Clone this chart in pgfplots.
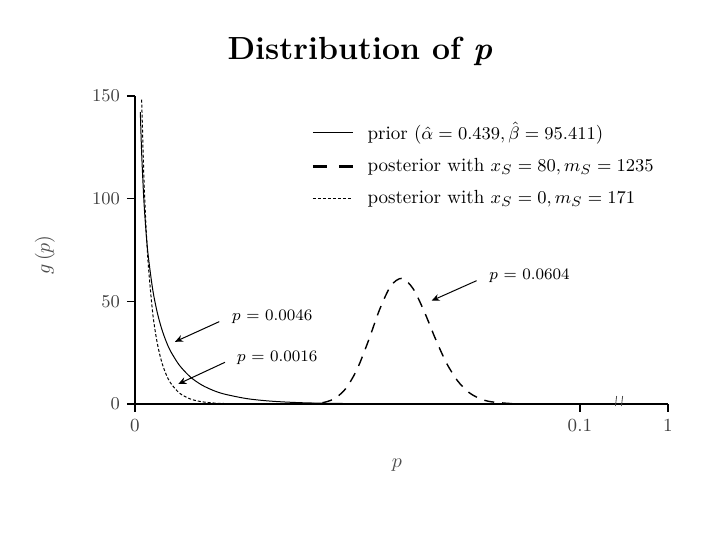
\documentclass[border=0pt]{standalone}
\usepackage{pgfplots}
\pgfplotsset{compat=1.18}
\usetikzlibrary{arrows.meta}
\pgfplotstableread{
x y
0.0012 142.2
0.0015 122.0
0.002 99.0
0.0025 83.3
0.003 71.7
0.004 55.5
0.005 44.6
0.006 36.6
0.007 30.5
0.008 25.7
0.01 18.8
0.0125 13.05
0.015 9.27
0.0175 6.69
0.02 4.88
0.025 2.66
0.03 1.48
0.035 0.83
0.04 0.47
0.05 0.155
0.06 0.05
0.08 0.006
0.1 0.0007
0.1198 0
}\prior
\pgfplotstableread{
x y
0.03 0
0.035 0.003
0.04 0.167
0.0425 0.79
0.045 2.83
0.0475 7.85
0.05 17.3
0.0525 31.0
0.055 46.1
0.0575 57.5
0.06 61.2
0.0625 56.2
0.065 45.1
0.0675 31.9
0.07 20.0
0.0725 11.3
0.075 5.71
0.0775 2.63
0.08 1.10
0.085 0.15
0.09 0.015
0.1 0
}\postA
\pgfplotstableread{
x y
0.0015 148.2
0.002 110.4
0.0025 85.3
0.003 67.4
0.004 43.9
0.005 29.7
0.006 20.5
0.007 14.4
0.008 10.24
0.01 5.29
0.0125 2.39
0.015 1.10
0.0175 0.51
0.02 0.24
0.025 0.055
0.03 0.01
0.04 0
}\postB
\begin{document}
\begin{tikzpicture}
\begin{axis}[
  at={(0,0)}, anchor=south west,
  scale only axis, width=266.5pt, height=154pt,
  xmin=0, xmax=0.1198, ymin=0, ymax=150,
  axis x line=bottom, axis y line=left,
  axis line style={-, line width=0.8pt},
  tick align=outside, major tick length=4pt,
  tick style={line width=0.8pt, black},
  xtick={0,0.1,0.1198}, xticklabels={0,0.1,1},
  ytick={0,50,100,150},
  scaled x ticks=false,
  tick label style={font=\fontsize{9.25}{11}\selectfont, text=black!75},
  xlabel={$p$}, ylabel={$g\,(p)$},
  xlabel style={at={(axis description cs:0.4916,-0.198)}, anchor=center, text=black!70, font=\fontsize{10}{12}\selectfont},
  ylabel style={at={(axis description cs:-0.169,0.484)}, anchor=center, text=black!70, font=\fontsize{10}{12}\selectfont},
  clip=false,
  legend style={at={(rel axis cs:0.319,0.9416)}, anchor=north west, draw=none, fill=none, font=\fontsize{9.5}{11}\selectfont, row sep=3.8pt},
  legend cell align=left,
]
\addplot[black, line width=0.5pt, smooth, legend image code/.code={\draw[black, line width=0.7pt] (0pt,0pt) -- (20pt,0pt); \path (25pt,0pt);}] table[x=x,y=y] {\prior};
\addlegendentry{prior ($\hat\alpha = 0.439, \hat\beta = 95.411$)}
\addplot[black, line width=0.7pt, smooth, dash pattern=on 5pt off 4pt, legend image code/.code={\draw[black, line width=1.4pt, dash pattern=on 7pt off 6pt] (0pt,0pt) -- (20pt,0pt); \path (25pt,0pt);}] table[x=x,y=y] {\postA};
\addlegendentry{posterior with $x_S = 80, m_S = 1235$}
\addplot[black, line width=0.5pt, smooth, dash pattern=on 1.5pt off 1pt, legend image code/.code={\draw[black, line width=0.6pt, dash pattern=on 1.5pt off 1pt] (0pt,0pt) -- (20pt,0pt); \path (25pt,0pt);}] table[x=x,y=y] {\postB};
\addlegendentry{posterior with $x_S = 0, m_S = 171$}
\node[font=\fontsize{16}{19}\selectfont\bfseries] at (axis description cs:0.422,1.145) {Distribution of \textit{p}};
\node[font=\footnotesize, anchor=west, inner sep=0pt] at (axis cs:0.07955,62.3) {$p$ = 0.0604};
\node[font=\footnotesize, anchor=west, inner sep=0pt] at (axis cs:0.02173,42.5) {$p$ = 0.0046};
\node[font=\footnotesize, anchor=west, inner sep=0pt] at (axis cs:0.02285,22.55) {$p$ = 0.0016};
\draw[-{Stealth[length=4pt,width=3.5pt]}, line width=0.5pt] (axis cs:0.07678,60.06) -- (axis cs:0.06667,50.3);
\draw[-{Stealth[length=4pt,width=3.5pt]}, line width=0.5pt] (axis cs:0.01894,40.1) -- (axis cs:0.00899,30.3);
\draw[-{Stealth[length=4pt,width=3.5pt]}, line width=0.5pt] (axis cs:0.02022,20.3) -- (axis cs:0.00973,9.74);
\draw[line width=0.4pt, black!70] (axis cs:0.1088,0) ++(-1.8pt,-1pt) -- ++(0.6pt,5pt);
\draw[line width=0.4pt, black!70] (axis cs:0.1088,0) ++(1.2pt,-1pt) -- ++(0.6pt,5pt);
\end{axis}
\path[use as bounding box] (-67.5pt,-68pt) rectangle (292.5pt,202pt);
\end{tikzpicture}
\end{document}
